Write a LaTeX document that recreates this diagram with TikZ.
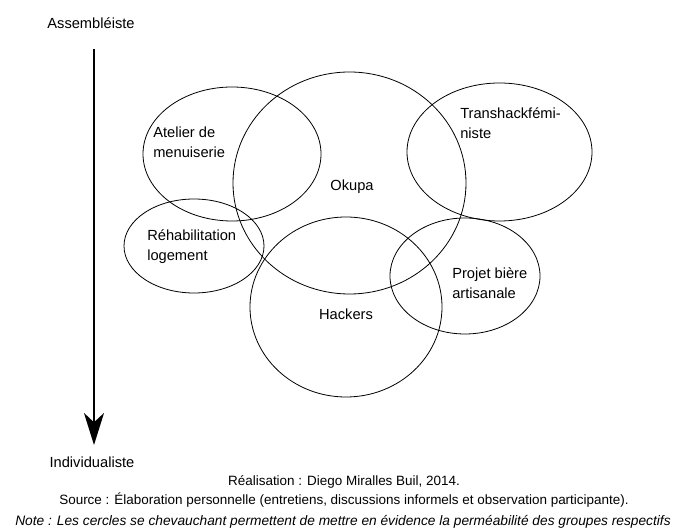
\documentclass[tikz,border=0pt]{standalone}
\usepackage{fontspec}
\setmainfont{Liberation Sans}
\usetikzlibrary{arrows.meta}

\begin{document}
\begin{tikzpicture}[x=0.75pt,y=-0.75pt,
    groupe/.style={draw, line width=0.6pt},
    etiquette/.style={font=\fontsize{11}{15}\selectfont, align=left, inner sep=0pt},
    legende/.style={font=\fontsize{10.1}{12}\selectfont, inner sep=0pt}]
    \useasboundingbox (0,0) rectangle (675,530);

    % Axe vertical
    \node[etiquette] (assemb) at (91,23) {Assembléiste};
    \node[etiquette] (indiv) at (92,462) {Individualiste};
    \coordinate (haut) at (94,49);
    \coordinate (bas) at (94,445);
    \draw [line width=1.6pt, -{Stealth[length=24pt,width=15pt,inset=7pt]}] (haut) -- (bas);

    % Groupes
    \draw [groupe] (232,154) ellipse (89 and 67);
    \draw [groupe] (349.5,183) ellipse (116.5 and 111);
    \draw [groupe] (499.5,152) ellipse (92.5 and 69);
    \draw [groupe] (194,246) ellipse (70 and 47);
    \draw [groupe] (465,276) ellipse (75 and 58);
    \draw [groupe] (346,307) ellipse (96 and 90);

    \node[etiquette, anchor=west] (atelier) at (153,142) {Atelier de\\menuiserie};
    \node[etiquette] (okupa) at (352,187) {Okupa};
    \node[etiquette, anchor=west] (trans) at (460,123) {Transhackfémi-\\niste};
    \node[etiquette, anchor=west] (rehab) at (147,246.5) {Réhabilitation\\logement};
    \node[etiquette, anchor=west] (biere) at (452,283.5) {Projet bière\\artisanale};
    \node[etiquette] (hackers) at (346,314) {Hackers};

    % Légende
    \node[legende] (real) at (344,482) {Réalisation : Diego Miralles Buil, 2014.};
    \node[legende] (source) at (344,500) {Source : Élaboration personnelle (entretiens, discussions informels et observation participante).};
    \node[legende, font=\fontsize{10.3}{12}\selectfont\itshape] (note) at (343,522) {Note : Les cercles se chevauchant permettent de mettre en évidence la perméabilité des groupes respectifs};

\end{tikzpicture}
\end{document}
